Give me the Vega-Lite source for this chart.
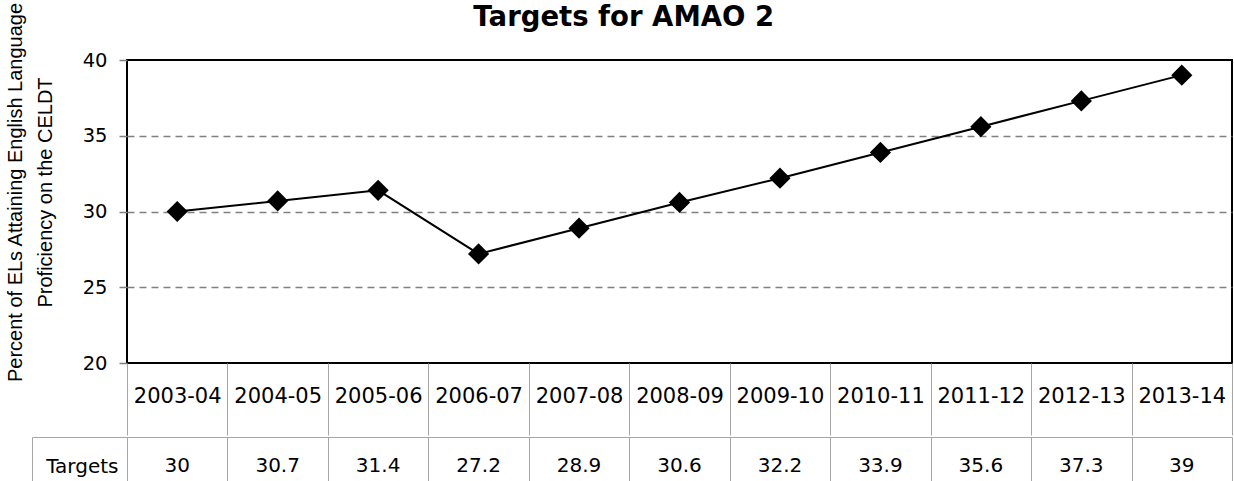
{
  "$schema": "https://vega.github.io/schema/vega-lite/v6.json",
  "data": {"values": [
    {"year": "2003-04", "target": 30},
    {"year": "2004-05", "target": 30.7},
    {"year": "2005-06", "target": 31.4},
    {"year": "2006-07", "target": 27.2},
    {"year": "2007-08", "target": 28.9},
    {"year": "2008-09", "target": 30.6},
    {"year": "2009-10", "target": 32.2},
    {"year": "2010-11", "target": 33.9},
    {"year": "2011-12", "target": 35.6},
    {"year": "2012-13", "target": 37.3},
    {"year": "2013-14", "target": 39}
  ]},
  "padding": {"left": 3, "top": 0, "right": 0, "bottom": 0},
  "background": "white",
  "title": {"text": "Targets for AMAO 2", "font": "DejaVu Sans", "fontSize": 27.5, "fontWeight": "bold", "color": "black", "anchor": "middle", "offset": -31, "dx": 5},
  "config": {"font": "DejaVu Sans", "view": {"stroke": null}, "concat": {"spacing": 0}},
  "spacing": -12,
  "vconcat": [
    {
      "width": 1105,
      "height": 303,
      "view": {"stroke": "black", "strokeWidth": 2},
      "encoding": {
        "x": {"field": "year", "type": "ordinal", "sort": null,
          "scale": {"paddingInner": 0, "paddingOuter": 0},
          "axis": {"title": null, "labelAngle": 0, "labelFontSize": 21, "labelFont": "DejaVu Sans", "labelColor": "black",
            "domain": false, "grid": false, "tickBand": "extent", "tickSize": 72, "tickColor": "#a6a6a6", "tickWidth": 1,
            "labelPadding": -50}},
        "y": {"field": "target", "type": "quantitative",
          "scale": {"domain": [20, 40], "nice": false, "zero": false},
          "axis": {"values": [20, 25, 30, 35, 40], "domain": false,
            "tickSize": 8, "tickColor": "#808080", "tickWidth": 1.5,
            "labelFontSize": 19.5, "labelFont": "DejaVu Sans", "labelColor": "black", "labelPadding": 12,
            "grid": true, "gridDash": [7, 5], "gridColor": "#808080", "gridWidth": 1.5,
            "gridOpacity": {"condition": {"test": "datum.value == 20 || datum.value == 40", "value": 0}, "value": 1},
            "title": ["Percent of ELs Attaining English Language", "Proficiency on the CELDT"],
            "titleFont": "Liberation Sans", "titleFontSize": 20, "titleFontWeight": "normal", "titleColor": "black",
            "titleLineHeight": 30, "titleAngle": -90, "titleAlign": "center", "titleBaseline": "middle",
            "titleX": -112, "titleY": 132}}
      },
      "layer": [
        {"mark": {"type": "line", "color": "black", "strokeWidth": 2}},
        {"mark": {"type": "point", "shape": "diamond", "filled": true, "size": 450, "color": "black", "opacity": 1}}
      ]
    },
    {
      "width": 1105,
      "height": 46,
      "encoding": {
        "x": {"field": "year", "type": "ordinal", "sort": null,
          "scale": {"paddingInner": 0, "paddingOuter": 0},
          "axis": {"orient": "top", "title": null, "labels": false, "ticks": false,
            "domain": true, "domainColor": "#a6a6a6", "domainWidth": 1,
            "grid": true, "gridColor": "#a6a6a6", "gridWidth": 1, "tickBand": "extent"}},
        "y": {"datum": "Targets", "type": "nominal",
          "scale": {"paddingInner": 0, "paddingOuter": 0},
          "axis": {"title": null, "labelFontSize": 20, "labelFont": "DejaVu Sans", "labelColor": "black",
            "tickBand": "extent", "tickSize": 95, "tickColor": "#a6a6a6", "tickWidth": 1,
            "domain": true, "domainColor": "#a6a6a6", "domainWidth": 1,
            "labelPadding": -86, "labelOffset": 6, "grid": false}}
      },
      "layer": [
        {"mark": {"type": "text", "fontSize": 20, "font": "DejaVu Sans", "color": "black", "dy": 6},
         "encoding": {"text": {"field": "target", "type": "nominal"}}},
        {"mark": {"type": "text", "opacity": 0},
         "encoding": {
           "text": {"value": ""},
           "y": {"datum": "Targets", "type": "nominal",
             "axis": {"orient": "left", "offset": 95, "title": null, "labels": false, "ticks": false, "grid": false,
               "domain": true, "domainColor": "#a6a6a6", "domainWidth": 1}}}}
      ],
      "resolve": {"axis": {"y": "independent"}}
    }
  ]
}
